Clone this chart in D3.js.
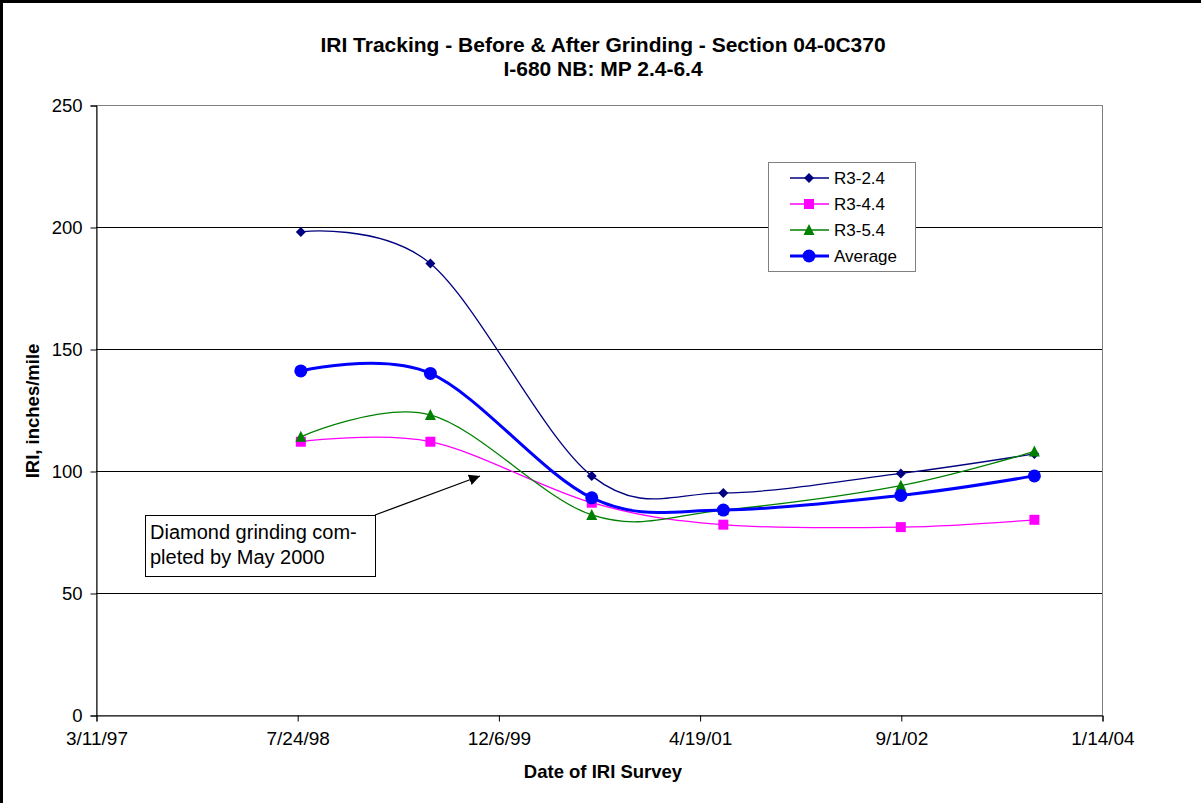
<!DOCTYPE html>
<html>
<head>
<meta charset="utf-8">
<script src="https://cdn.jsdelivr.net/npm/d3@7"></script>
<style>
  body { margin: 0; background: #fff; }
  svg text { font-family: "Liberation Sans", Arial, sans-serif; }
</style>
</head>
<body>
<svg id="chart" width="1201" height="803"></svg>
<script>
// survey dates and IRI readings (inches/mile)
var surveyDates = ["1998-08-02", "1999-06-20", "2000-07-25", "2001-06-17", "2002-09-01", "2003-07-30"];
var r24 = [198, 185, 98, 91, 99, 107];
var r44 = [112, 112, 87, 78, 77, 80];
var r54 = [114, 123, 82, 84, 94, 108];
var avg = [141, 140, 89, 84, 90, 98];
var yTicks = [0, 50, 100, 150, 200, 250];
var xTickLabels = ["3/11/97", "7/24/98", "12/6/99", "4/19/01", "9/1/02", "1/14/04"];

var parse = d3.timeParse("%Y-%m-%d");
var series = [
  { name: "R3-2.4", values: r24, color: "#000080", width: 1.3, shape: "diamond" },
  { name: "R3-4.4", values: r44, color: "#ff00ff", width: 1.3, shape: "square" },
  { name: "R3-5.4", values: r54, color: "#008000", width: 1.3, shape: "triangle" },
  { name: "Average", values: avg, color: "#0000ff", width: 3, shape: "circle" }
];

var svg = d3.select("#chart"),
  plotLeft = 96, plotRight = 1102, plotTop = 105, plotBottom = 715;

// outer chart border (right/bottom fall off the picture)
svg.append("rect")
  .attr("x", 1.5).attr("y", 1.5)
  .attr("width", 1210).attr("height", 810)
  .attr("fill", "none").attr("stroke", "#000").attr("stroke-width", 3);

var tickDates = xTickLabels.map(d3.timeParse("%m/%d/%y"));
var x = d3.scaleTime()
  .domain([tickDates[0], tickDates[tickDates.length - 1]])
  .range([plotLeft, plotRight]);
var y = d3.scaleLinear().domain([0, 250]).range([plotBottom, plotTop]);

// plot area border
svg.append("rect")
  .attr("x", plotLeft + 0.5).attr("y", plotTop + 0.5)
  .attr("width", plotRight - plotLeft).attr("height", plotBottom - plotTop)
  .attr("fill", "none").attr("stroke", "#808080").attr("stroke-width", 1);

// gridlines
svg.append("g").selectAll("line")
  .data(yTicks.filter(v => v > 0 && v < 250))
  .join("line")
  .attr("x1", plotLeft).attr("x2", plotRight)
  .attr("y1", d => y(d) + 0.5).attr("y2", d => y(d) + 0.5)
  .attr("stroke", "#000").attr("stroke-width", 1);

// axes
var yAxis = svg.append("g")
  .attr("transform", `translate(${plotLeft + 0.5},0.5)`)
  .call(d3.axisLeft(y).tickValues(yTicks).tickSize(6).tickPadding(8));
var xAxis = svg.append("g")
  .attr("transform", `translate(0.5,${plotBottom + 0.5})`)
  .call(d3.axisBottom(x).tickValues(tickDates).tickSize(6).tickPadding(10)
    .tickFormat((d, i) => xTickLabels[i]));
[yAxis, xAxis].forEach(g => {
  g.select(".domain").attr("stroke", "#000");
  g.selectAll(".tick line").attr("stroke", "#000");
  g.selectAll("text").attr("fill", "#000");
});
yAxis.selectAll("text").attr("font-size", 18.5);
xAxis.selectAll("text").attr("font-size", 19);

// titles
svg.append("text").attr("x", 603).attr("y", 52)
  .attr("text-anchor", "middle").attr("font-size", 21).attr("font-weight", "bold")
  .text("IRI Tracking - Before & After Grinding - Section 04-0C370");
svg.append("text").attr("x", 603).attr("y", 76)
  .attr("text-anchor", "middle").attr("font-size", 21).attr("font-weight", "bold")
  .text("I-680 NB: MP 2.4-6.4");
svg.append("text").attr("x", 603).attr("y", 778)
  .attr("text-anchor", "middle").attr("font-size", 18.5).attr("font-weight", "bold")
  .text("Date of IRI Survey");
svg.append("text")
  .attr("transform", "translate(39,411) rotate(-90)")
  .attr("text-anchor", "middle").attr("font-size", 18.5).attr("font-weight", "bold")
  .text("IRI, inches/mile");

// markers
function marker(g, shape, color) {
  if (shape === "diamond") {
    g.append("path").attr("d", "M0,-5L5,0L0,5L-5,0Z").attr("fill", color);
  } else if (shape === "square") {
    g.append("rect").attr("x", -5).attr("y", -5).attr("width", 10).attr("height", 10).attr("fill", color);
  } else if (shape === "triangle") {
    g.append("path").attr("d", "M0,-6L5.5,5L-5.5,5Z").attr("fill", color);
  } else {
    g.append("circle").attr("r", 6.5).attr("fill", color);
  }
}

var line = d3.line()
  .x((d, i) => x(parse(surveyDates[i])))
  .y(d => y(d))
  .curve(d3.curveCatmullRom.alpha(0));

series.forEach(s => {
  svg.append("path")
    .attr("d", line(s.values))
    .attr("fill", "none")
    .attr("stroke", s.color)
    .attr("stroke-width", s.width);
  s.values.forEach((v, i) => {
    var g = svg.append("g")
      .attr("transform", `translate(${x(parse(surveyDates[i]))},${y(v)})`);
    marker(g, s.shape, s.color);
  });
});

// legend
var legend = svg.append("g").attr("transform", "translate(768,162)");
legend.append("rect")
  .attr("x", 0.5).attr("y", 0.5).attr("width", 147).attr("height", 109)
  .attr("fill", "#fff").attr("stroke", "#808080");
series.forEach((s, i) => {
  var row = legend.append("g").attr("transform", `translate(0,${16 + i * 26})`);
  row.append("line").attr("x1", 22).attr("x2", 61)
    .attr("stroke", s.color).attr("stroke-width", s.width);
  marker(row.append("g").attr("transform", "translate(41,0)"), s.shape, s.color);
  row.append("text").attr("x", 66).attr("y", 6)
    .attr("font-size", 17).text(s.name);
});

// annotation
svg.append("defs").append("marker")
  .attr("id", "arrow").attr("viewBox", "0 0 10 10")
  .attr("refX", 10).attr("refY", 5)
  .attr("markerWidth", 11).attr("markerHeight", 11)
  .attr("markerUnits", "userSpaceOnUse")
  .attr("orient", "auto")
  .append("path").attr("d", "M0,0L10,5L0,10Z").attr("fill", "#000");
svg.append("line")
  .attr("x1", 375).attr("y1", 515).attr("x2", 480).attr("y2", 476)
  .attr("stroke", "#000").attr("stroke-width", 1.3)
  .attr("marker-end", "url(#arrow)");
svg.append("rect")
  .attr("x", 145.5).attr("y", 515.5).attr("width", 230).attr("height", 61)
  .attr("fill", "#fff").attr("stroke", "#000");
svg.append("text").attr("x", 150).attr("y", 534).attr("font-size", 20)
  .attr("dominant-baseline", "middle").text("Diamond grinding com-");
svg.append("text").attr("x", 150).attr("y", 559).attr("font-size", 20)
  .attr("dominant-baseline", "middle").text("pleted by May 2000");
</script>
</body>
</html>
